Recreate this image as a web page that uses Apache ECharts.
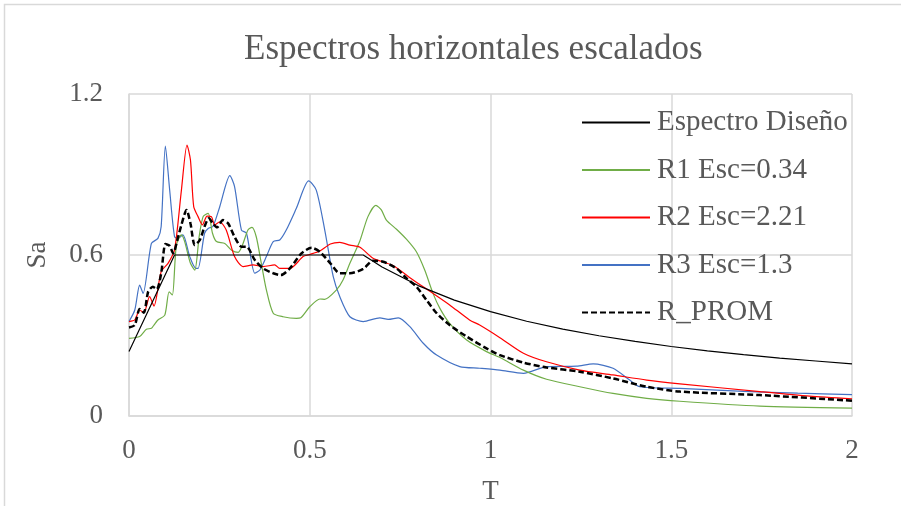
<!DOCTYPE html>
<html><head><meta charset="utf-8">
<script src="https://cdn.jsdelivr.net/npm/echarts@6/dist/echarts.min.js"></script>
<style>html,body{margin:0;padding:0;background:#fff}#c{width:901px;height:506px}</style>
</head><body><div id="c"></div>
<script>
const title = 'Espectros horizontales escalados';
const seriesNames = ['Espectro Diseño','R1 Esc=0.34','R2 Esc=2.21','R3 Esc=1.3','R_PROM'];
const xTicks = [0, 0.5, 1, 1.5, 2];
const yTicks = [0, 0.6, 1.2];

const designSpec = [[0,0.24],[0.126,0.6],[0.648,0.6],[0.7,0.555],[0.8,0.486],[0.9,0.432],[1.0,0.389],[1.1,0.353],[1.2,0.324],[1.3,0.299],[1.4,0.278],[1.5,0.259],[1.6,0.243],[1.7,0.229],[1.8,0.216],[1.9,0.205],[2.0,0.194]];

const r1 = [[0,0.289],[0.0295,0.296],[0.048,0.323],[0.062,0.327],[0.069,0.339],[0.08,0.358],[0.099,0.376],[0.111,0.463],[0.12,0.451],[0.131,0.637],[0.145,0.675],[0.154,0.65],[0.17,0.569],[0.182,0.544],[0.194,0.668],[0.205,0.743],[0.219,0.755],[0.231,0.681],[0.242,0.65],[0.265,0.643],[0.283,0.619],[0.302,0.61],[0.3155,0.643],[0.329,0.693],[0.34,0.703],[0.352,0.668],[0.366,0.569],[0.38,0.47],[0.399,0.383],[0.426,0.37],[0.463,0.364],[0.475,0.366],[0.5,0.407],[0.528,0.436],[0.541,0.435],[0.574,0.47],[0.592,0.507],[0.611,0.569],[0.638,0.65],[0.661,0.743],[0.683,0.785],[0.698,0.768],[0.712,0.73],[0.74,0.696],[0.768,0.658],[0.795,0.612],[0.818,0.544],[0.841,0.457],[0.86,0.401],[0.887,0.345],[0.934,0.283],[0.989,0.24],[1.026,0.218],[1.091,0.171],[1.155,0.137],[1.247,0.109],[1.339,0.084],[1.432,0.066],[1.524,0.055],[1.745,0.037],[2.0,0.029]];

const r2 = [[0,0.352],[0.016,0.358],[0.0295,0.395],[0.041,0.385],[0.057,0.445],[0.069,0.41],[0.089,0.538],[0.108,0.569],[0.126,0.619],[0.145,0.842],[0.1605,1.01],[0.17,0.954],[0.179,0.78],[0.191,0.743],[0.203,0.712],[0.216,0.745],[0.228,0.743],[0.237,0.712],[0.251,0.724],[0.269,0.693],[0.292,0.594],[0.3155,0.557],[0.343,0.563],[0.371,0.557],[0.403,0.563],[0.417,0.55],[0.445,0.55],[0.4815,0.594],[0.5,0.602],[0.528,0.615],[0.557,0.641],[0.583,0.647],[0.611,0.637],[0.639,0.629],[0.675,0.588],[0.731,0.56],[0.786,0.507],[0.841,0.457],[0.887,0.414],[0.942,0.358],[0.97,0.339],[1.026,0.292],[1.091,0.234],[1.155,0.202],[1.247,0.171],[1.339,0.153],[1.432,0.134],[1.524,0.12],[1.745,0.091],[1.883,0.074],[2.0,0.064]];

const r3 = [[0,0.352],[0.016,0.395],[0.0295,0.488],[0.039,0.457],[0.062,0.643],[0.08,0.662],[0.089,0.706],[0.1006,1.006],[0.1125,0.842],[0.126,0.668],[0.136,0.662],[0.149,0.675],[0.168,0.594],[0.185,0.55],[0.191,0.55],[0.209,0.681],[0.219,0.699],[0.232,0.706],[0.251,0.78],[0.279,0.896],[0.292,0.855],[0.311,0.693],[0.325,0.681],[0.348,0.532],[0.362,0.544],[0.38,0.594],[0.399,0.65],[0.417,0.656],[0.435,0.693],[0.463,0.774],[0.497,0.876],[0.518,0.842],[0.5415,0.693],[0.565,0.519],[0.583,0.445],[0.611,0.37],[0.648,0.352],[0.694,0.366],[0.717,0.36],[0.745,0.366],[0.777,0.333],[0.814,0.271],[0.851,0.227],[0.915,0.184],[0.97,0.178],[1.026,0.171],[1.091,0.159],[1.155,0.184],[1.238,0.186],[1.284,0.194],[1.339,0.178],[1.385,0.134],[1.413,0.109],[1.524,0.103],[1.7,0.092],[1.85,0.085],[2.0,0.08]];

const rProm = [[0,0.33],[0.016,0.339],[0.0295,0.399],[0.041,0.385],[0.053,0.463],[0.066,0.482],[0.077,0.472],[0.089,0.532],[0.101,0.641],[0.1125,0.634],[0.122,0.606],[0.136,0.668],[0.145,0.712],[0.159,0.768],[0.17,0.718],[0.182,0.637],[0.196,0.656],[0.209,0.706],[0.221,0.737],[0.232,0.718],[0.2435,0.703],[0.26,0.73],[0.274,0.718],[0.292,0.668],[0.311,0.631],[0.325,0.631],[0.348,0.581],[0.371,0.55],[0.399,0.532],[0.42,0.525],[0.445,0.55],[0.477,0.606],[0.505,0.627],[0.528,0.612],[0.557,0.569],[0.583,0.532],[0.611,0.532],[0.648,0.548],[0.675,0.579],[0.703,0.575],[0.74,0.55],[0.768,0.513],[0.795,0.482],[0.823,0.432],[0.851,0.383],[0.887,0.339],[0.934,0.296],[0.989,0.252],[1.026,0.227],[1.091,0.199],[1.155,0.181],[1.247,0.165],[1.339,0.14],[1.432,0.109],[1.524,0.091],[1.745,0.078],[2.0,0.057]];

const FONT = '"Liberation Serif", "Times New Roman", serif';
const TXT = '#595959';
const chart = echarts.init(document.getElementById('c'), null, {renderer:'canvas'});
chart.setOption({
  animation:false,
  backgroundColor:'#fff',
  title:{text:title,left:239,top:27,textStyle:{fontFamily:FONT,fontSize:35,fontWeight:'normal',color:TXT}},
  graphic:[{type:'rect',shape:{x:4.5,y:4.5,width:920,height:520},style:{fill:'none',stroke:'#d9d9d9',lineWidth:1.5},silent:true}],
  legend:{orient:'vertical',left:581,top:108,itemWidth:68,itemHeight:16,itemGap:18.5,padding:0,
    itemStyle:{color:'transparent',borderColor:'transparent',borderWidth:0,opacity:0},
    textStyle:{fontFamily:FONT,fontSize:29,lineHeight:16,color:TXT,padding:[0,0,0,2]},
    data:seriesNames},
  grid:{left:129,right:49,top:94,bottom:90,containLabel:false,outerBoundsMode:'none'},
  xAxis:{type:'value',min:0,max:2,interval:0.5,name:'T',nameLocation:'middle',nameGap:62,
    nameTextStyle:{fontFamily:FONT,fontSize:27,color:TXT},
    axisLine:{show:true,lineStyle:{color:'#d9d9d9',width:1.5}},axisTick:{show:false},
    axisLabel:{fontFamily:FONT,fontSize:27,color:TXT,margin:21,formatter:v=>xTicks.includes(v)?String(v):''},
    splitLine:{show:true,lineStyle:{color:'#d9d9d9',width:1.5}}},
  yAxis:{type:'value',min:0,max:1.2,interval:0.6,name:'Sa',nameLocation:'middle',nameGap:78,nameRotate:90,
    nameTextStyle:{fontFamily:FONT,fontSize:27,color:TXT},
    axisLine:{show:true,lineStyle:{color:'#d9d9d9',width:1.5}},axisTick:{show:false},
    axisLabel:{fontFamily:FONT,fontSize:27,color:TXT,margin:26,formatter:v=>yTicks.includes(v)?String(v):''},
    splitLine:{show:true,lineStyle:{color:'#d9d9d9',width:1.5}}},
  series:[
    {name:seriesNames[0],type:'line',data:designSpec,symbol:'none',smooth:false,color:'#000',lineStyle:{color:'#000',width:1.2},z:5},
    {name:seriesNames[1],type:'line',data:r1,symbol:'none',smooth:0.25,color:'#70AD47',lineStyle:{color:'#70AD47',width:1.2},z:2},
    {name:seriesNames[2],type:'line',data:r2,symbol:'none',smooth:0.25,color:'#FF0000',lineStyle:{color:'#FF0000',width:1.2},z:3},
    {name:seriesNames[3],type:'line',data:r3,symbol:'none',smooth:0.25,color:'#4472C4',lineStyle:{color:'#4472C4',width:1.2},z:1},
    {name:seriesNames[4],type:'line',data:rProm,symbol:'none',smooth:0.25,color:'#000',lineStyle:{color:'#000',width:2.5,type:[6,3]},z:6}
  ]
});
</script></body></html>
